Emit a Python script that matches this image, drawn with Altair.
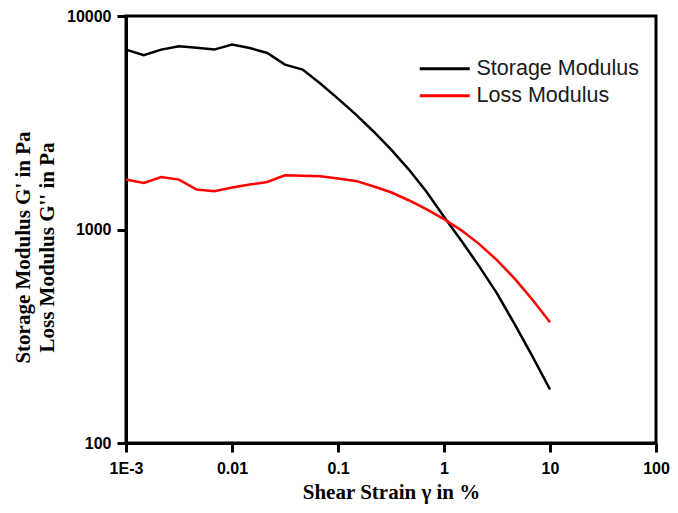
import altair as alt
import pandas as pd

# Shear strain (%) sample points
strain = [0.001, 0.00147, 0.00215, 0.00316, 0.00464, 0.00681, 0.01, 0.0147, 0.0215,
          0.0316, 0.0464, 0.0681, 0.1, 0.147, 0.215, 0.316, 0.464, 0.681, 1.0,
          1.47, 2.15, 3.16, 4.64, 6.81, 10.0]

storage_modulus = [6960, 6545, 6960, 7215, 7100, 6960, 7345, 7085, 6710, 5920, 5610,
                   4825, 4104, 3460, 2886, 2372, 1914, 1505, 1147, 880, 672, 502,
                   360, 255, 178]

loss_modulus = [1713, 1651, 1762, 1713, 1538, 1510, 1572, 1623, 1669, 1795, 1785,
                1775, 1734, 1689, 1595, 1494, 1371, 1245, 1119, 988, 854, 719,
                589, 470, 368]

series_names = ["Storage Modulus", "Loss Modulus"]
series_colors = ["#000000", "#ff0000"]

x_ticks = [0.001, 0.01, 0.1, 1, 10, 100]
y_ticks = [100, 1000, 10000]

rows = []
for name, vals in zip(series_names, [storage_modulus, loss_modulus]):
    for s, v in zip(strain, vals):
        rows.append({"strain": s, "modulus": v, "series": name})
df = pd.DataFrame(rows)

chart = alt.Chart(df).mark_line(strokeWidth=2.5).encode(
    x=alt.X("strain:Q",
            scale=alt.Scale(type="log", domain=[0.001, 100], nice=False),
            axis=alt.Axis(values=x_ticks,
                          labelExpr="datum.value < 0.005 ? '1E-3' : format(datum.value, '~g')",
                          labelFlush=False,
                          title="Shear Strain γ in %",
                          titleY=55, titleBaseline="alphabetic",
                          tickSize=9, labelPadding=8)),
    y=alt.Y("modulus:Q",
            scale=alt.Scale(type="log", domain=[100, 10000], nice=False),
            axis=alt.Axis(values=y_ticks, format="d", labelFlush=False,
                          title=["Storage Modulus G' in Pa", "Loss Modulus G'' in Pa"],
                          titleAngle=270, titleAlign="center", titleBaseline="middle",
                          titleX=-103, titleY=231, titleLineHeight=24,
                          tickSize=9, labelPadding=6)),
    color=alt.Color("series:N",
                    scale=alt.Scale(domain=series_names, range=series_colors),
                    sort=series_names,
                    legend=alt.Legend(title=None, orient="none", legendX=308, legendY=42,
                                      symbolType="M-5,0H5", symbolSize=100,
                                      symbolStrokeWidth=3, labelOffset=21,
                                      labelFont="Liberation Sans", labelFontSize=21.5,
                                      labelLimit=0,
                                      labelColor="#1a1a1a", rowPadding=4, padding=0)),
).properties(
    width=530, height=427,
    autosize=alt.AutoSizeParams(type="none"),
    padding={"left": 118, "top": 8, "right": 14, "bottom": 62},
).configure_view(
    stroke="black", strokeWidth=3
).configure_axis(
    domainColor="black", domainWidth=3, tickColor="black", tickWidth=3,
    grid=False, labelColor="black", labelFont="Liberation Sans",
    labelFontWeight="bold", labelFontSize=16,
    titleFont="Liberation Serif", titleFontWeight="bold", titleFontSize=21,
    titleColor="black"
)

chart.save("out.html", embed_options={"renderer": "svg", "actions": False})
